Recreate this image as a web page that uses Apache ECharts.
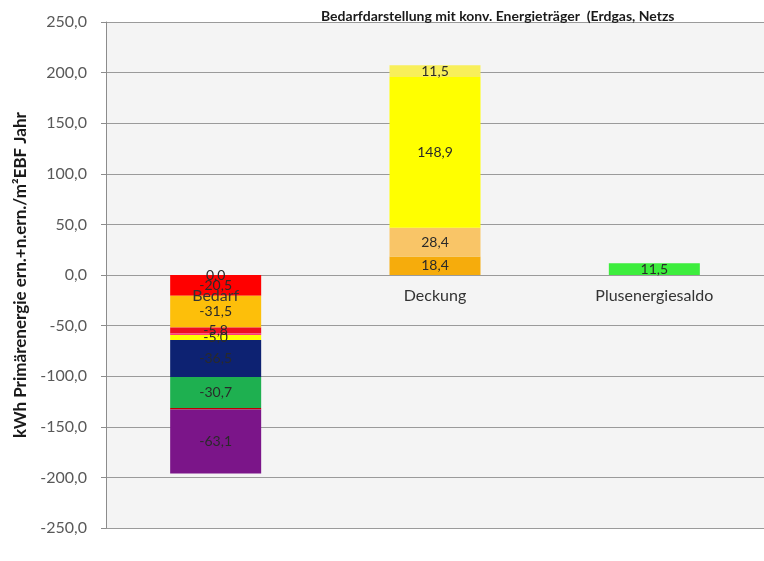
<!DOCTYPE html>
<html>
<head>
<meta charset="utf-8">
<script src="https://cdn.jsdelivr.net/npm/echarts@6/dist/echarts.min.js"></script>
<style>html,body{margin:0;padding:0;background:#fff;}#c{width:764px;height:561px;}</style>
</head>
<body>
<div id="c"></div>
<script>
// ---- data ----
const categories = ['Bedarf', 'Deckung', 'Plusenergiesaldo'];
const bedarfValues = [0.0, -20.5, -31.5, -5.8, -1.5, -5.0, -36.5, -30.7, -1.5, -63.1];
const bedarfLabelShown = [true, true, true, true, false, true, true, true, false, true];
const deckungValues = [18.4, 28.4, 148.9, 11.5];
const saldoValues = [11.5];
const yTicks = [-250, -200, -150, -100, -50, 0, 50, 100, 150, 200, 250];
const titleText = 'Bedarfdarstellung mit konv. Energieträger  (Erdgas, Netzs';
const yAxisTitle = 'kWh Primärenergie ern.+n.ern./m²EBF Jahr';

// ---- styles ----
const bedarfColors = ['#ff0000', '#ff0000', '#fdbf0a', '#ee1020', '#ff3a7a', '#ffff00', '#0d2272', '#1eb050', '#c00000', '#7b1589'];
const deckungColors = ['#f6ac0c', '#f9c567', '#ffff00', '#f8ef5a'];
const saldoColors = ['#3ded3d'];

const fmt = v => Number(v).toFixed(1).replace('.', ',');
const FONT = 'Lato';

const GRID_TOP = 22, GRID_BOTTOM = 33, CHART_H = 561;
const plotH = CHART_H - GRID_TOP - GRID_BOTTOM;
const yMin = yTicks[0], yMax = yTicks[yTicks.length - 1];
// distance from grid bottom to the zero line (so category labels sit under the zero line)
const zeroOffset = plotH * (0 - yMin) / (yMax - yMin);

const series = [];
function addSeries(values, colors, catIndex, shownArr) {
  values.forEach((v, i) => {
    const data = categories.map((c, k) => (k === catIndex ? v : '-'));
    series.push({
      type: 'bar',
      stack: 'total',
      barWidth: 91,
      data: data,
      itemStyle: { color: colors[i] },
      label: {
        show: shownArr ? shownArr[i] : true,
        position: 'inside',
        formatter: p => fmt(p.value),
        color: '#2a2a2a',
        fontFamily: FONT,
        fontSize: 14
      },
      z: 2
    });
  });
}
addSeries(bedarfValues, bedarfColors, 0, bedarfLabelShown);
addSeries(deckungValues, deckungColors, 1);
addSeries(saldoValues, saldoColors, 2);

const chart = echarts.init(document.getElementById('c'), null, { renderer: 'canvas' });
chart.setOption({
  animation: false,
  backgroundColor: '#ffffff',
  title: {
    text: titleText,
    left: 316,
    top: 4,
    textStyle: { fontFamily: FONT, fontSize: 14, fontWeight: 'bold', color: '#1a1a1a' }
  },
  grid: {
    left: 106, right: -22, top: GRID_TOP, bottom: GRID_BOTTOM,
    show: true, backgroundColor: '#f4f4f4', borderWidth: 0
  },
  xAxis: {
    type: 'category',
    data: categories,
    position: 'bottom',
    offset: -zeroOffset,
    z: 10,
    axisLine: { show: false, onZero: false },
    axisTick: { show: false },
    axisLabel: { margin: 13, color: '#333333', fontFamily: FONT, fontSize: 16 },
    splitLine: { show: false }
  },
  yAxis: {
    type: 'value',
    min: yMin,
    max: yMax,
    interval: 50,
    name: yAxisTitle,
    nameLocation: 'middle',
    nameRotate: 90,
    nameGap: 70,
    nameTextStyle: { fontFamily: FONT, fontSize: 17, fontWeight: 'bold', color: '#1a1a1a' },
    axisLine: { show: true, lineStyle: { color: '#8c8c8c', width: 1 } },
    axisTick: { show: true, length: 5, lineStyle: { color: '#8c8c8c' } },
    axisLabel: { margin: 19, color: '#595959', fontFamily: FONT, fontSize: 16, formatter: v => fmt(v) },
    splitLine: { show: true, lineStyle: { color: '#9a9a9a', width: 1 } }
  },
  series: series
});
</script>
</body>
</html>
